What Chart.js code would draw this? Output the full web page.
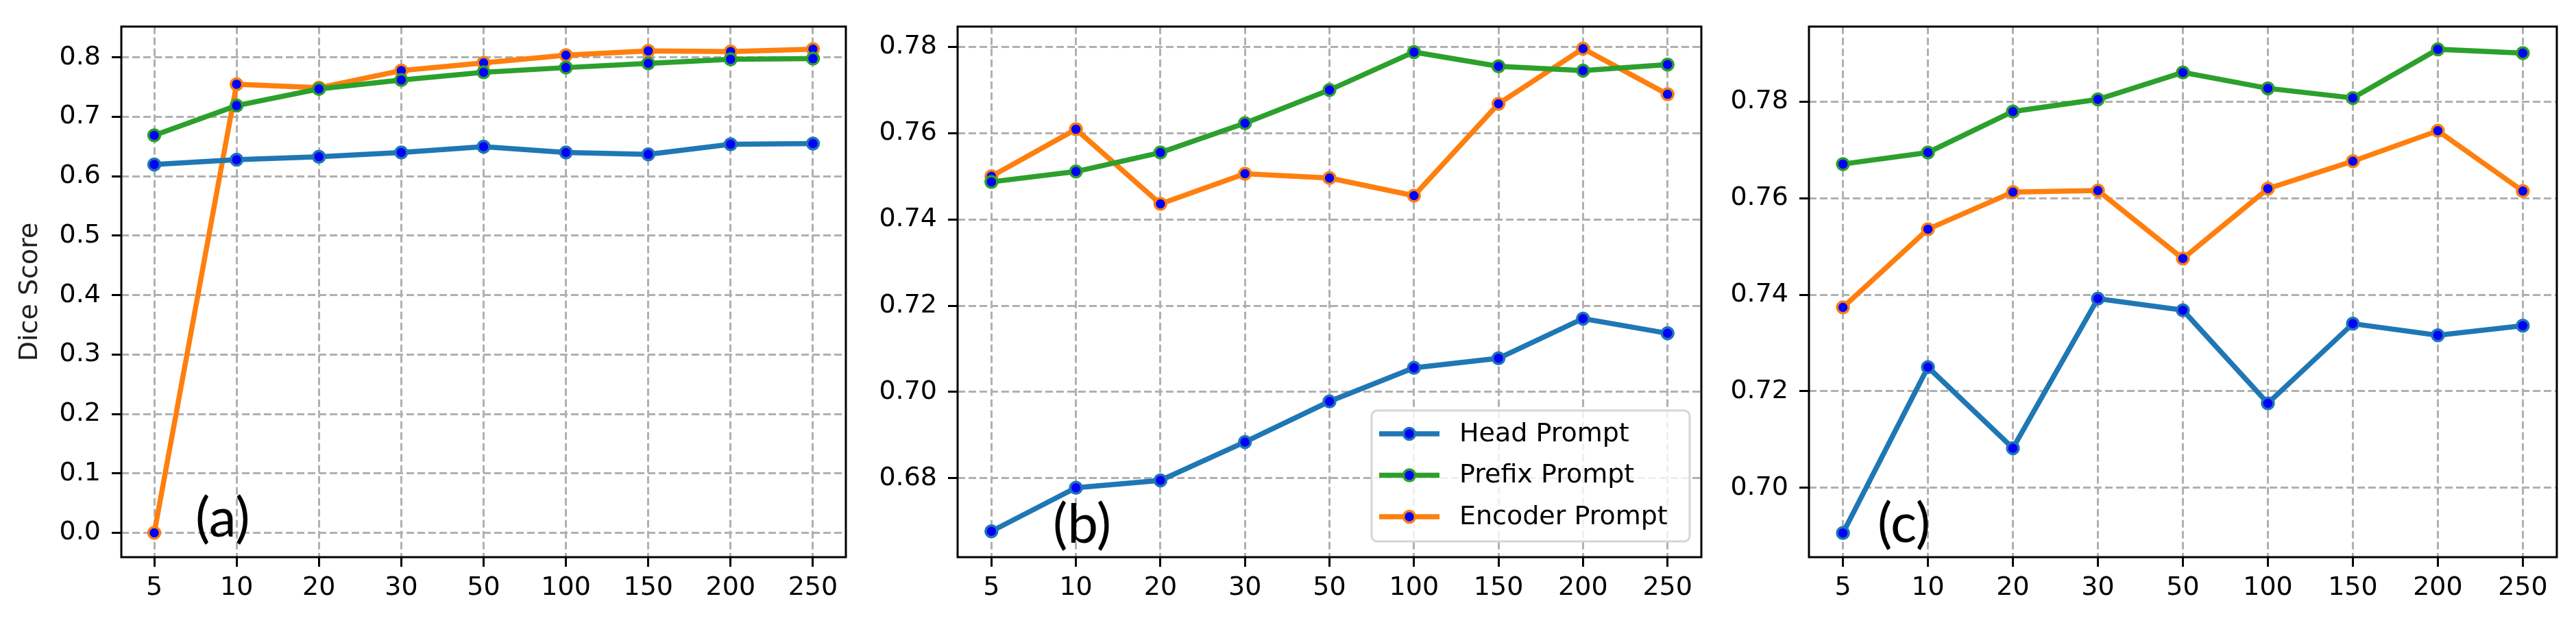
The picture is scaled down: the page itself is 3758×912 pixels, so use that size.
<!DOCTYPE html>
<html>
<head>
<meta charset="utf-8">
<script src="https://cdn.jsdelivr.net/npm/chart.js@4.4.0/dist/chart.umd.min.js"></script>
<style>
html, body { margin: 0; padding: 0; background: #fff; }
body { width: 3758px; height: 912px; position: relative; overflow: hidden; }
canvas { position: absolute; top: 0; }
</style>
</head>
<body>
<canvas id="chartA" width="1250" height="912" style="left:0px"></canvas>
<canvas id="chartB" width="1250" height="912" style="left:1250px"></canvas>
<canvas id="chartC" width="1258" height="912" style="left:2500px"></canvas>
<script>
// x categories (number of samples) and series names
const steps = ['5', '10', '20', '30', '50', '100', '150', '200', '250'];
const seriesNames = ['Head Prompt', 'Prefix Prompt', 'Encoder Prompt'];

// panel (a)
const headA    = [0.620, 0.628, 0.633, 0.640, 0.650, 0.640, 0.637, 0.654, 0.655];
const prefixA  = [0.669, 0.719, 0.747, 0.762, 0.775, 0.783, 0.790, 0.797, 0.798];
const encoderA = [0.000, 0.755, 0.749, 0.778, 0.791, 0.804, 0.811, 0.810, 0.814];
const ticksA   = [0.0, 0.1, 0.2, 0.3, 0.4, 0.5, 0.6, 0.7, 0.8];

// panel (b)
const headB    = [0.6677, 0.6778, 0.6795, 0.6884, 0.6978, 0.7056, 0.7078, 0.7170, 0.7136];
const prefixB  = [0.7487, 0.7511, 0.7555, 0.7623, 0.7700, 0.7788, 0.7755, 0.7745, 0.7759];
const encoderB = [0.7500, 0.7609, 0.7436, 0.7506, 0.7496, 0.7455, 0.7668, 0.7796, 0.7690];
const ticksB   = [0.68, 0.70, 0.72, 0.74, 0.76, 0.78];

// panel (c)
const headC    = [0.6906, 0.7250, 0.7082, 0.7392, 0.7368, 0.7175, 0.7340, 0.7316, 0.7336];
const prefixC  = [0.7671, 0.7695, 0.7780, 0.7805, 0.7861, 0.7828, 0.7808, 0.7909, 0.7901];
const encoderC = [0.7374, 0.7536, 0.7613, 0.7616, 0.7475, 0.7620, 0.7677, 0.7740, 0.7615];
const ticksC   = [0.70, 0.72, 0.74, 0.76, 0.78];

const lineColors = ['#1f77b4', '#2ca02c', '#ff7f0e'];
const FONT = 'DejaVu Sans';

function makeSet(name, values, color) {
    return {
        label: name,
        data: values.map((v, i) => ({ x: i, y: v })),
        borderColor: color,
        backgroundColor: color,
        borderWidth: 7.5,
        pointRadius: 8.5,
        pointBorderWidth: 3.5,
        pointBackgroundColor: '#0000ff',
        pointBorderColor: color,
        tension: 0
    };
}

// frame, panel tag and (optional) legend drawn on top
const extras = {
    id: 'extras',
    afterDraw(chart, args, opts) {
        const ctx = chart.ctx;
        const a = chart.chartArea;
        ctx.save();
        ctx.strokeStyle = '#000';
        ctx.lineWidth = 3;
        ctx.strokeRect(a.left, a.top, a.right - a.left, a.bottom - a.top);

        ctx.fillStyle = '#000';
        ctx.font = '80px Lato';
        ctx.textAlign = 'left';
        ctx.textBaseline = 'middle';
        ctx.fillText(opts.tag, a.left + opts.tagX, a.bottom - opts.tagY);

        if (opts.legend) {
            const lx = a.right - 481, ly = a.bottom - 214, lw = 464, lh = 191;
            ctx.beginPath();
            ctx.roundRect(lx, ly, lw, lh, 8);
            ctx.fillStyle = 'rgba(255,255,255,0.8)';
            ctx.fill();
            ctx.strokeStyle = '#d6d6d6';
            ctx.lineWidth = 3;
            ctx.stroke();
            chart.data.datasets.forEach((ds, k) => {
                const y = ly + 34 + k * 60.5;
                ctx.beginPath();
                ctx.moveTo(lx + 11, y);
                ctx.lineTo(lx + 99, y);
                ctx.strokeStyle = ds.borderColor;
                ctx.lineWidth = ds.borderWidth;
                ctx.stroke();
                ctx.beginPath();
                ctx.arc(lx + 55, y, ds.pointRadius, 0, Math.PI * 2);
                ctx.fillStyle = ds.pointBackgroundColor;
                ctx.fill();
                ctx.lineWidth = ds.pointBorderWidth;
                ctx.strokeStyle = ds.pointBorderColor;
                ctx.stroke();
                ctx.fillStyle = '#000';
                ctx.font = '38px "' + FONT + '"';
                ctx.textBaseline = 'middle';
                ctx.fillText(ds.label, lx + 128, y + 1);
            });
        }
        ctx.restore();
    }
};

function makeChart(id, sets, yTicks, yMin, yMax, digits, yWidth, padRight, extra, yTitle) {
    return new Chart(document.getElementById(id), {
        type: 'line',
        data: {
            datasets: [
                makeSet(seriesNames[0], sets[0], lineColors[0]),
                makeSet(seriesNames[1], sets[1], lineColors[1]),
                makeSet(seriesNames[2], sets[2], lineColors[2])
            ]
        },
        options: {
            responsive: false,
            animation: false,
            devicePixelRatio: 1,
            layout: { padding: { top: 32, right: padRight, bottom: 0, left: 0 } },
            plugins: {
                legend: { display: false },
                tooltip: { enabled: false },
                extras: extra
            },
            scales: {
                x: {
                    type: 'linear',
                    min: -0.4,
                    max: 8.4,
                    afterBuildTicks: s => { s.ticks = steps.map((_, i) => ({ value: i })); },
                    afterFit: s => { s.height = 99; },
                    ticks: {
                        callback: v => steps[v],
                        font: { family: FONT, size: 38 },
                        color: '#000',
                        padding: 8,
                        maxRotation: 0,
                        autoSkip: false
                    },
                    grid: {
                        color: '#b0b0b0',
                        lineWidth: 3,
                        tickColor: '#000',
                        tickLength: 14,
                        tickWidth: 3,
                        tickBorderDash: []
                    },
                    border: { display: false, dash: [11, 5] }
                },
                y: {
                    min: yMin,
                    max: yMax,
                    afterBuildTicks: s => { s.ticks = yTicks.map(v => ({ value: v })); },
                    afterFit: s => { s.width = yWidth; },
                    ticks: {
                        callback: v => v.toFixed(digits),
                        font: { family: FONT, size: 38 },
                        color: '#000',
                        padding: 16
                    },
                    grid: {
                        color: '#b0b0b0',
                        lineWidth: 3,
                        tickColor: '#000',
                        tickLength: 14,
                        tickWidth: 3,
                        tickBorderDash: []
                    },
                    border: { display: false, dash: [11, 5] },
                    title: yTitle ? {
                        display: true,
                        text: yTitle,
                        font: { family: FONT, size: 38 },
                        color: '#222',
                        padding: { top: 21, bottom: 0 }
                    } : { display: false }
                }
            }
        },
        plugins: [extras]
    });
}

makeChart('chartA', [headA, prefixA, encoderA], ticksA, -0.041, 0.852, 1, 177, 16,
    { tag: '(a)', tagX: 108, tagY: 56, legend: false }, 'Dice Score');
makeChart('chartB', [headB, prefixB, encoderB], ticksB, 0.6617, 0.7847, 2, 147, 18,
    { tag: '(b)', tagX: 139, tagY: 47, legend: true }, null);
makeChart('chartC', [headC, prefixC, encoderC], ticksC, 0.6856, 0.7956, 2, 139, 28,
    { tag: '(c)', tagX: 100, tagY: 48, legend: false }, null);
</script>
</body>
</html>
